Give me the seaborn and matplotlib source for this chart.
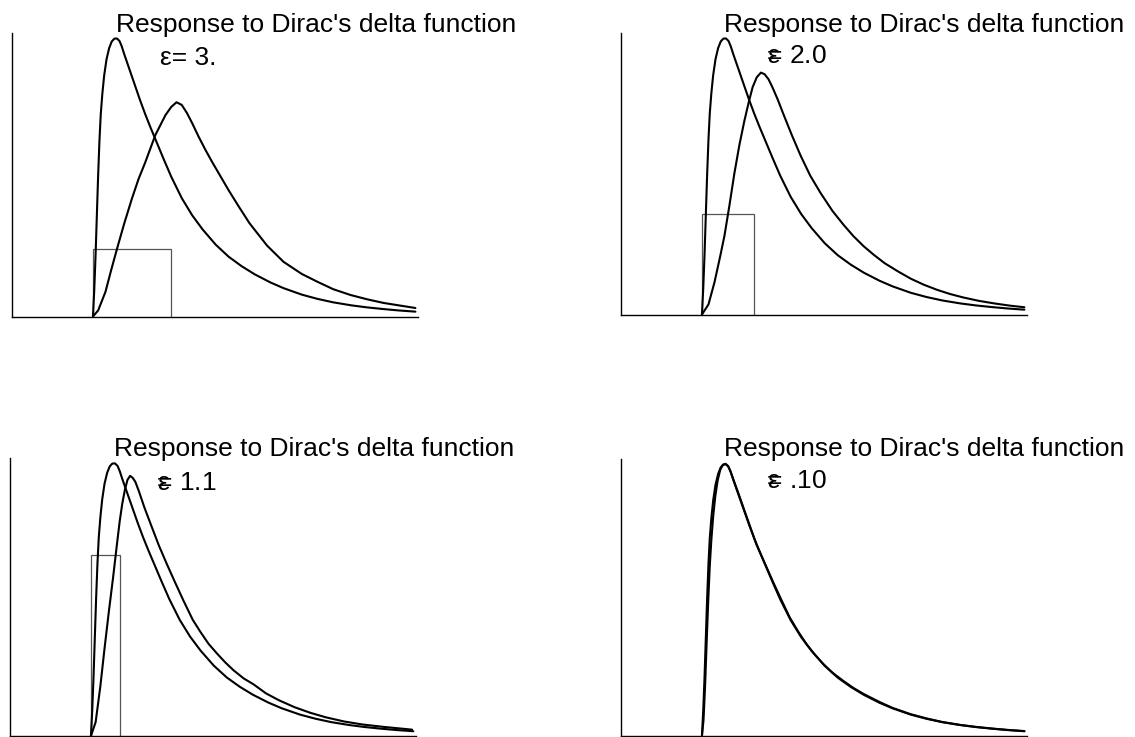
import matplotlib
matplotlib.use("Agg")
import matplotlib.pyplot as plt
import seaborn as sns

# Impulse response h(t) (response to Dirac's delta), same in every panel
h_t = [0.0, 0.05, 0.10, 0.15, 0.20, 0.25, 0.30, 0.36, 0.43, 0.52, 0.62, 0.72, 0.82,
       0.92, 1.02, 1.1, 1.2, 1.4, 1.6, 1.8, 2.0, 2.2, 2.4, 2.7, 3.0, 3.4, 3.8, 4.2,
       4.7, 5.2, 5.7, 6.2, 6.8, 7.3, 8.0, 8.6, 9.2, 9.9, 10.5, 11.1, 11.7, 12.35]
h_y = [0.0, 0.13, 0.30, 0.50, 0.70, 0.87, 1.00, 1.10, 1.19, 1.27, 1.325, 1.358, 1.372,
       1.373, 1.36, 1.335, 1.295, 1.22, 1.145, 1.07, 1.0, 0.935, 0.873, 0.78, 0.69,
       0.585, 0.50, 0.43, 0.355, 0.295, 0.248, 0.208, 0.168, 0.14, 0.108, 0.087, 0.07,
       0.055, 0.045, 0.037, 0.03, 0.024]

# Responses to rectangular pulses of width eps and height 1/eps
eps_values = [3.0, 2.0, 1.1, 0.1]
eps_labels = ["3.", "2.0", "1.1", ".10"]

resp_eps3_t = [0.0, 0.2, 0.48, 0.7, 0.93, 1.2, 1.5, 1.75, 2.0, 2.39, 2.78, 3.0, 3.2,
               3.4, 3.6, 3.8, 4.04, 4.3, 4.57, 5.19, 5.6, 6.0, 6.67, 7.3, 8.0, 8.59,
               9.2, 9.87, 10.5, 11.13, 12.35]
resp_eps3_y = [0.0, 0.03, 0.122, 0.23, 0.338, 0.46, 0.585, 0.68, 0.76, 0.896, 0.995,
               1.035, 1.058, 1.045, 1.005, 0.955, 0.89, 0.825, 0.762, 0.625, 0.54,
               0.46, 0.35, 0.27, 0.21, 0.172, 0.135, 0.106, 0.085, 0.067, 0.042]

resp_eps2_t = [0.0, 0.25, 0.48, 0.7, 0.86, 1.05, 1.24, 1.43, 1.62, 1.8, 1.94, 2.1,
               2.26, 2.4, 2.55, 2.7, 2.9, 3.14, 3.45, 3.78, 4.15, 4.54, 5.0, 5.43, 5.8,
               6.19, 6.6, 7.0, 7.5, 8.0, 8.5, 9.0, 9.5, 10.0, 10.6, 11.2, 11.8, 12.35]
resp_eps2_y = [0.0, 0.05, 0.16, 0.29, 0.39, 0.54, 0.70, 0.84, 0.96, 1.06, 1.13, 1.18,
               1.203, 1.195, 1.17, 1.13, 1.07, 0.99, 0.89, 0.79, 0.69, 0.605, 0.515,
               0.445, 0.39, 0.34, 0.295, 0.255, 0.215, 0.178, 0.148, 0.123, 0.102,
               0.085, 0.068, 0.055, 0.044, 0.036]

resp_eps11_t = [0.0, 0.18, 0.36, 0.52, 0.68, 0.85, 1.0, 1.1, 1.2, 1.3, 1.4, 1.5, 1.6,
                1.7, 1.83, 2.05, 2.28, 2.6, 2.91, 3.2, 3.55, 3.9, 4.19, 4.5, 4.83, 5.15,
                5.47, 5.85, 6.23, 6.7, 7.2, 7.8, 8.4, 9.0, 9.7, 10.4, 11.2, 12.3]
resp_eps11_y = [0.0, 0.07, 0.25, 0.44, 0.62, 0.80, 0.97, 1.08, 1.17, 1.24, 1.29, 1.31,
                1.30, 1.28, 1.235, 1.15, 1.07, 0.96, 0.865, 0.78, 0.68, 0.585, 0.525,
                0.465, 0.415, 0.37, 0.33, 0.29, 0.26, 0.215, 0.18, 0.145, 0.117, 0.094,
                0.073, 0.058, 0.046, 0.032]

resp_eps01_t = [0.0, 0.06, 0.12, 0.18, 0.24, 0.30, 0.36, 0.43, 0.51, 0.6, 0.7, 0.8,
                0.9, 1.0, 1.1, 1.2, 1.4, 1.6, 1.8, 2.08, 2.4, 2.72, 3.0, 3.36, 3.7, 4.0,
                4.3, 4.64, 5.0, 5.4, 5.8, 6.2, 6.8, 7.3, 8.0, 8.6, 9.2, 9.9, 10.5, 11.1,
                11.7, 12.35]
resp_eps01_y = [0.0, 0.08, 0.25, 0.47, 0.68, 0.86, 0.99, 1.11, 1.21, 1.29, 1.345,
                1.37, 1.376, 1.365, 1.335, 1.298, 1.225, 1.15, 1.075, 0.97, 0.875, 0.78,
                0.70, 0.60, 0.525, 0.465, 0.415, 0.365, 0.32, 0.28, 0.243, 0.212, 0.172,
                0.142, 0.11, 0.089, 0.071, 0.056, 0.046, 0.038, 0.031, 0.025]

responses = [(resp_eps3_t, resp_eps3_y), (resp_eps2_t, resp_eps2_y),
             (resp_eps11_t, resp_eps11_y), (resp_eps01_t, resp_eps01_y)]

title_text = "Response to Dirac's delta function"

sns.set_style("white")
plt.rcParams["font.family"] = ["Liberation Sans", "DejaVu Sans"]
plt.rcParams["mathtext.fontset"] = "custom"
plt.rcParams["mathtext.rm"] = "Liberation Sans"
plt.rcParams["mathtext.it"] = "Liberation Sans:italic"
plt.rcParams["text.color"] = "black"

W, H = 1135, 737
fig = plt.figure(figsize=(W / 100, H / 100), dpi=100)


def box(left, top, right, bottom):
    return [left / W, 1 - bottom / H, (right - left) / W, (bottom - top) / H]


# panel frames in pixels: (left, top, right, bottom)
frames = [(12, 33, 418, 316.5), (621, 33, 1027, 314.5),
          (10, 458, 416, 736), (621, 459, 1027, 736)]
# text anchors in pixels: title (x, baseline), eps label (x, baseline)
title_pos = [(116, 32), (724, 32), (114, 456), (724, 456)]
eps_pos = [(160, 65), (767, 63), (157, 490), (767, 488)]

XMIN, XMAX, YMAX = -3.1, 12.45, 1.40
FS = 19

for i, frame in enumerate(frames):
    ax = fig.add_axes(box(*frame))
    eps = eps_values[i]
    rt, ry = responses[i]

    # rectangular input pulse of unit area
    if 1.0 / eps <= YMAX:
        ax.plot([0, 0, eps, eps], [0, 1.0 / eps, 1.0 / eps, 0],
                color="#555555", lw=0.9, solid_joinstyle="miter")

    sns.lineplot(x=h_t, y=h_y, ax=ax, color="black", lw=1.5,
                 estimator=None, sort=False)
    sns.lineplot(x=rt, y=ry, ax=ax, color="black", lw=1.5,
                 estimator=None, sort=False)

    ax.set_xlim(XMIN, XMAX)
    ax.set_ylim(0, YMAX)
    ax.set_xticks([])
    ax.set_yticks([])
    ax.set_xlabel("")
    ax.set_ylabel("")
    ax.patch.set_alpha(0)
    for side in ("top", "right"):
        ax.spines[side].set_visible(False)
    for side in ("left", "bottom"):
        ax.spines[side].set_color("black")
        ax.spines[side].set_linewidth(1.0)

    tx, ty = title_pos[i]
    fig.text(tx / W, 1 - ty / H, title_text, fontsize=FS, va="baseline",
             ha="left", color="black")

    ex, ey = eps_pos[i]
    if i == 0:
        label = "ε= " + eps_labels[i]
    else:
        # epsilon struck through by the equals sign
        label = r"$\mathrm{ε}\!\!\!\!\!\mathrm{=}\,$" + eps_labels[i]
    fig.text(ex / W, 1 - ey / H, label, fontsize=FS, va="baseline",
             ha="left", color="black")

fig.savefig("out.png", dpi=100, facecolor="white")
